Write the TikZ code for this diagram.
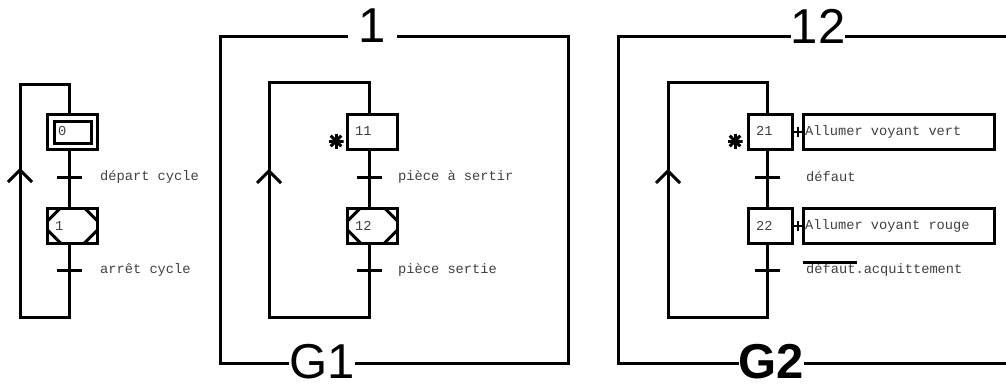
\documentclass[tikz,border=0pt]{standalone}
\usepackage{fontspec}
\newfontfamily\monof{Liberation Mono}
\newfontfamily\sansf{Liberation Sans}
\tikzset{
  w/.style={line width=3pt, line join=miter},
  stepbox/.style={draw, line width=3pt, minimum width=50pt, minimum height=35pt, inner sep=0pt},
  cornerstep/.style={stepbox,
    path picture={
      \draw[line width=3pt] ([yshift=-13pt]path picture bounding box.north west) -- ([xshift=13pt]path picture bounding box.north west);
      \draw[line width=3pt] ([yshift=-13pt]path picture bounding box.north east) -- ([xshift=-13pt]path picture bounding box.north east);
      \draw[line width=3pt] ([yshift=13pt]path picture bounding box.south west) -- ([xshift=13pt]path picture bounding box.south west);
      \draw[line width=3pt] ([yshift=13pt]path picture bounding box.south east) -- ([xshift=-13pt]path picture bounding box.south east);}},
  narrowstep/.style={stepbox, minimum width=44pt},
  actbox/.style={draw, line width=3pt, minimum width=191pt, minimum height=35pt, inner sep=0pt},
  trans/.style={fill=black, minimum width=25pt, minimum height=3pt, inner sep=0pt},
  lbl/.style={anchor=west, inner sep=0pt, font=\monof\fontsize{13.7}{16}\selectfont, text=black!75},
  big/.style={font=\sansf\fontsize{49}{55}\selectfont, fill=white, inner sep=0pt, anchor=base},
  bigb/.style={big, font=\sansf\bfseries\fontsize{49}{55}\selectfont},
  starn/.style={minimum size=15pt, inner sep=0pt,
    path picture={\foreach \a in {0,45,90,135}{
      \draw[line width=3pt] ([shift={(\a:7.5pt)}]path picture bounding box.center) -- ([shift={(\a+180:7.5pt)}]path picture bounding box.center);}}},
}
\begin{document}
\begin{tikzpicture}[x=1pt,y=-1pt]
\useasboundingbox (0,0) rectangle (1006,388);

% ---------- diagram 1 ----------
\node[stepbox] (s0) at (72.5,132) {};
\draw[line width=3pt] ([shift={(8,8)}]s0.north west) rectangle ([shift={(-8,-8)}]s0.south east);
\node[lbl] (n0) at ([xshift=12pt,yshift=1pt]s0.west) {0};
\node[cornerstep] (s1) at (72.5,225.5) {};
\node[lbl] (n1) at ([xshift=9pt]s1.west) {1};
\node[trans] (t01) at (69.5,177) {};
\node[trans] (t10) at (69.5,270) {};
\node[lbl] (lt01) at (100,177) {départ cycle};
\node[lbl] (lt10) at (100,270) {arrêt cycle};
\coordinate (c1b) at (20,317);
\coordinate (c1t) at (20,84);
\coordinate (ar1) at (20,170);
\draw[w] ([xshift=-3pt]s0.south) -- ([xshift=-3pt]s1.north);
\draw[w] ([xshift=-3pt]s1.south) |- (c1b) -- (c1t) -| ([xshift=-3pt]s0.north);
\draw[w] ([shift={(-12,12)}]ar1) -- (ar1) -- ([shift={(12,12)}]ar1);

% ---------- diagram 2 (G1) ----------
\draw[w] (220,36) rectangle (568,363);
\node[big, inner xsep=11pt, inner ysep=2pt] (lab1) at (372.5,42) {1};
\node[big] (g1) at (322,378) {G1};
\node[stepbox] (s11) at (372.5,132) {};
\node[lbl] (n11) at ([xshift=9pt,yshift=1pt]s11.west) {11};
\node[cornerstep] (s12) at (372.5,225.5) {};
\node[lbl] (n12) at ([xshift=9pt]s12.west) {12};
\node[starn] (st1) at (336,141) {};
\node[trans] (t11) at (369.5,177) {};
\node[trans] (t12) at (369.5,270) {};
\node[lbl] (lt11) at (398,177) {pièce à sertir};
\node[lbl] (lt12) at (398,270) {pièce sertie};
\coordinate (c2b) at (269,317);
\coordinate (c2t) at (269,82);
\coordinate (ar2) at (269,171);
\draw[w] ([xshift=-3pt]s11.south) -- ([xshift=-3pt]s12.north);
\draw[w] ([xshift=-3pt]s12.south) |- (c2b) -- (c2t) -| ([xshift=-3pt]s11.north);
\draw[w] ([shift={(-12,12)}]ar2) -- (ar2) -- ([shift={(12,12)}]ar2);

% ---------- diagram 3 (G2) ----------
\draw[w] (1006,36) -- (618,36) -- (618,363) -- (1006,363);
\node[big, inner ysep=2pt] (lab12) at (818,43) {12};
\node[bigb] (g2) at (771.5,378) {G2};
\node[narrowstep] (s21) at (770.5,132) {};
\node[lbl] (n21) at ([xshift=9pt,yshift=1pt]s21.west) {21};
\node[narrowstep] (s22) at (770.5,225.5) {};
\node[lbl] (n22) at ([xshift=9pt]s22.west) {22};
\node[actbox] (a21) at (899,132) {};
\node[actbox] (a22) at (899,225.5) {};
\node[lbl] (la21) at ([xshift=3pt]a21.west) {Allumer voyant vert};
\node[lbl] (la22) at ([xshift=3pt]a22.west) {Allumer voyant rouge};
\draw[line width=2pt] (s21.east) -- (a21.west);
\draw[line width=2pt] ([xshift=-4pt,yshift=5pt]a21.west) -- ([xshift=-4pt,yshift=-5pt]a21.west);
\draw[line width=2pt] (s22.east) -- (a22.west);
\draw[line width=2pt] ([xshift=-4pt,yshift=5pt]a22.west) -- ([xshift=-4pt,yshift=-5pt]a22.west);
\node[starn] (st2) at (735,141) {};
\node[trans] (t21) at (767.5,177) {};
\node[trans] (t22) at (767.5,270) {};
\node[lbl] (lt21) at (806,177) {défaut};
\node[lbl] (lt22) at (806,270) {défaut.acquittement};
\draw[line width=2.5pt] ([xshift=-3pt,yshift=11pt]lt22.base west) -- ++(54,0);
\coordinate (c3b) at (668,317);
\coordinate (c3t) at (668,82);
\coordinate (ar3) at (668,171);
\draw[w] ([xshift=-3pt]s21.south) -- ([xshift=-3pt]s22.north);
\draw[w] ([xshift=-3pt]s22.south) |- (c3b) -- (c3t) -| ([xshift=-3pt]s21.north);
\draw[w] ([shift={(-12,12)}]ar3) -- (ar3) -- ([shift={(12,12)}]ar3);
\end{tikzpicture}
\end{document}
